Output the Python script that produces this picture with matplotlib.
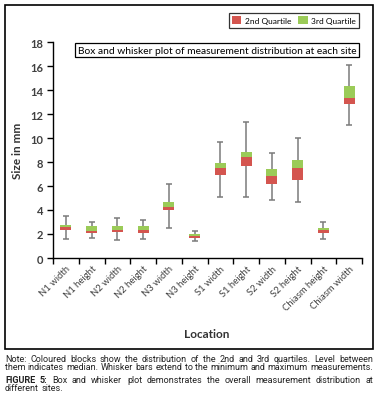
import numpy as np
import matplotlib
matplotlib.use("Agg")
import matplotlib.pyplot as plt
from matplotlib.patches import Rectangle, Patch

plt.rcParams["font.family"] = ["Lato", "DejaVu Sans"]

sites = ["N1 width", "N1 height", "N2 width", "N2 height", "N3 width", "N3 height",
         "S1 width", "S1 height", "S2 width", "S2 height", "Chiasm height", "Chiasm width"]
mins = [1.6, 1.68, 1.53, 1.6, 2.5, 1.42, 5.08, 5.08, 4.85, 4.67, 1.6, 11.1]
q1 = [2.3, 2.05, 2.14, 2.05, 4.03, 1.67, 6.89, 7.64, 6.2, 6.53, 2.08, 12.82]
medians = [2.55, 2.25, 2.33, 2.3, 4.28, 1.83, 7.5, 8.39, 6.86, 7.53, 2.3, 13.31]
q3 = [2.78, 2.64, 2.69, 2.69, 4.69, 2.0, 7.92, 8.83, 7.44, 8.19, 2.5, 14.36]
maxs = [3.5, 3.0, 3.36, 3.17, 6.17, 2.25, 9.67, 11.33, 8.75, 10.0, 3.0, 16.08]

note_lines = ["Note: Coloured blocks show the distribution of the 2nd and 3rd quartiles. Level between",
              "them indicates median. Whisker bars extend to the minimum and maximum measurements."]
caption_lines = ["FIGURE 5: Box and whisker plot demonstrates the overall measurement distribution at",
                 "different sites."]

red = "#d4554f"
green = "#9bcb58"
grey = "#7a7a7a"

fig = plt.figure(figsize=(3.83, 4.02), dpi=100)
W, H = 383, 402

# outer frame
fig.patches.append(Rectangle((5 / W, 1 - 350 / H), 368 / W, 344 / H,
                             transform=fig.transFigure, fill=False,
                             edgecolor="black", linewidth=1.2))

ax = fig.add_axes([53 / W, 1 - 259 / H, 309 / W, 216 / H])
x = np.arange(len(sites))
mins, q1, medians, q3, maxs = map(np.array, (mins, q1, medians, q3, maxs))

ax.errorbar(x, medians, yerr=[medians - mins, maxs - medians], fmt="none",
            ecolor=grey, elinewidth=1.1, capsize=2.4, capthick=1.1, zorder=1)
ax.bar(x, medians - q1, bottom=q1, width=0.42, color=red, zorder=2)
ax.bar(x, q3 - medians, bottom=medians, width=0.42, color=green, zorder=2)

ax.set_xlim(-0.5, len(sites) - 0.5)
ax.set_ylim(0, 18)
ax.set_yticks(np.arange(0, 19, 2))
ax.set_xticks(x)
ax.set_xticks(np.arange(-0.5, len(sites)), minor=True)
ax.set_xticklabels(sites, rotation=45, ha="right", rotation_mode="anchor",
                   fontsize=6.8, color="#404040")
ax.tick_params(axis="x", which="major", length=0, pad=4)
ax.tick_params(axis="x", which="minor", length=4, width=1, color="black")
ax.tick_params(axis="y", length=4, width=1, labelsize=8, labelcolor="#404040", pad=3)
for lab in ax.get_yticklabels():
    lab.set_fontweight("bold")
for s in ["top", "right"]:
    ax.spines[s].set_visible(False)
ax.spines["left"].set_linewidth(1)
ax.spines["bottom"].set_linewidth(1)

ax.set_ylabel("Size in mm", fontsize=8.5, fontweight="bold", color="#333333", labelpad=5)
fig.text(207 / W, 1 - 335 / H, "Location", fontsize=8.5, fontweight="bold",
         color="#333333", ha="center", va="center")

ax.text(0.531, 0.962, "Box and whisker plot of measurement distribution at each site",
        transform=ax.transAxes, ha="center", va="center", fontsize=7.4,
        bbox=dict(boxstyle="square,pad=0.25", facecolor="white", edgecolor="black", linewidth=0.9))

handles = [Patch(facecolor=red, label="2nd Quartile"), Patch(facecolor=green, label="3rd Quartile")]
leg = fig.legend(handles=handles, loc="upper right", bbox_to_anchor=(359 / W, 1 - 14 / H),
                 ncol=2, fontsize=6.0, frameon=True, fancybox=False, edgecolor="black",
                 handlelength=1.1, handleheight=1.1, handletextpad=0.4, columnspacing=0.9,
                 borderpad=0.4, borderaxespad=0)
leg.get_frame().set_linewidth(0.9)

# note and caption, justified
renderer = fig.canvas.get_renderer()
note_family = ["Roboto", "DejaVu Sans"]

# pick the size at which the natural second note line fills the block width
probe = fig.text(0, 0, note_lines[1], fontsize=10, family=note_family)
size = 10 * 366 / probe.get_window_extent(renderer).width
probe.remove()


def justified(line, y, left, right, justify=True, bold_first=0):
    words = line.split()
    texts = []
    for i, w in enumerate(words):
        t = fig.text(0, y, w, fontsize=size, family=note_family,
                     fontweight="bold" if i < bold_first else "normal",
                     color="#222222", va="baseline", ha="left")
        texts.append(t)
    widths = [t.get_window_extent(renderer).width for t in texts]
    if justify and len(texts) > 1:
        gap = ((right - left) * W - sum(widths)) / (len(texts) - 1)
    else:
        sp = fig.text(0, 0, "a a", fontsize=size, family=note_family)
        sp2 = fig.text(0, 0, "aa", fontsize=size, family=note_family)
        gap = sp.get_window_extent(renderer).width - sp2.get_window_extent(renderer).width
        sp.remove()
        sp2.remove()
    pos = left * W
    for t, w in zip(texts, widths):
        t.set_x(pos / W)
        pos += w + gap


justified(note_lines[0], 1 - 362 / H, 5 / W, 373 / W)
justified(note_lines[1], 1 - 370.5 / H, 5 / W, 373 / W)
justified(caption_lines[0], 1 - 383 / H, 5 / W, 373 / W, bold_first=2)
justified(caption_lines[1], 1 - 391.5 / H, 5 / W, 373 / W, justify=False)

fig.savefig("out.png", dpi=100)
